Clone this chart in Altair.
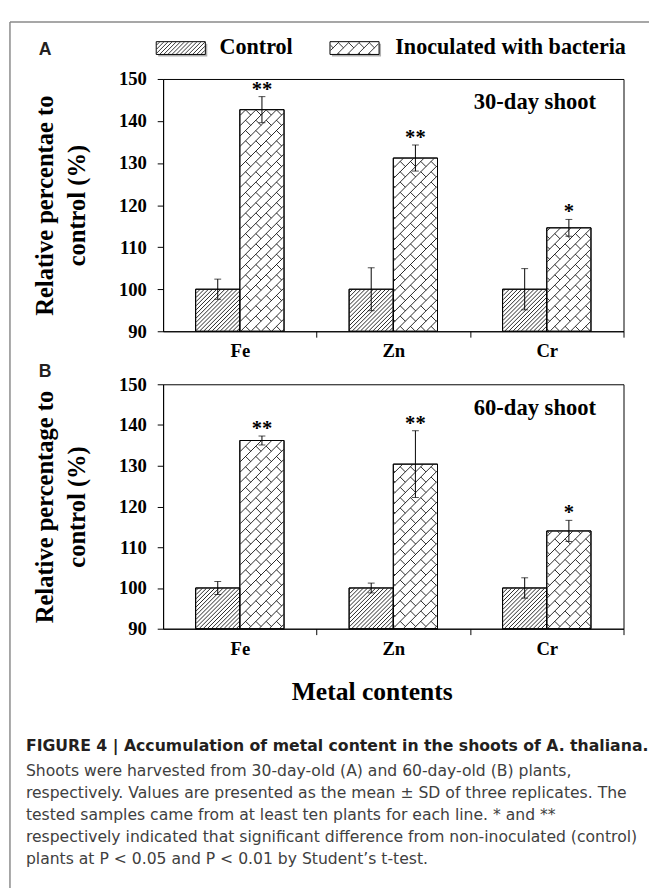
import math
import altair as alt
import pandas as pd

# ---------------- data ----------------
metals = ["Fe", "Zn", "Cr"]
groups = ["Control", "Inoculated with bacteria"]
a_control = [100.0, 100.0, 100.0]
a_control_sd = [2.4, 5.1, 4.9]
a_inoculated = [142.7, 131.2, 114.6]
a_inoculated_sd = [3.1, 3.1, 2.0]
b_control = [100.0, 100.0, 100.0]
b_control_sd = [1.6, 1.2, 2.5]
b_inoculated = [136.2, 130.4, 114.0]
b_inoculated_sd = [1.1, 8.2, 2.6]
significance = ["**", "**", "*"]
y_ticks = [90, 100, 110, 120, 130, 140, 150]
panel_letters = ["A", "B"]
panel_notes = ["30-day shoot", "60-day shoot"]
y_titles = [["Relative percentae to", "control (%)"],
            ["Relative percentage to", "control (%)"]]
x_title = "Metal contents"
caption_title = "FIGURE 4 | Accumulation of metal content in the shoots of A. thaliana."
caption_lines = [
    "Shoots were harvested from 30-day-old (A) and 60-day-old (B) plants,",
    "respectively. Values are presented as the mean \u00b1 SD of three replicates. The",
    "tested samples came from at least ten plants for each line. * and **",
    "respectively indicated that significant difference from non-inoculated (control)",
    "plants at P < 0.05 and P < 0.01 by Student\u2019s t-test.",
]

# ---------------- layout / style ----------------
W = 469
HA, HB = 257, 249
GAP = 54
YMIN, YMAX = 90, 150
NCAT = len(metals)
BAR = 0.288
SERIF = "Liberation Serif"
SANS = "Liberation Sans"
CAPFONT = "DejaVu Sans"
FRAME = "#8a8a8a"
CTRL_STEP = 4.2
BRICK_STEP = 10.5


def clip_seg(x0, y0, x1, y1, rect):
    xmin, ymin, xmax, ymax = rect
    dx, dy = x1 - x0, y1 - y0
    t0, t1 = 0.0, 1.0
    for p, q in ((-dx, x0 - xmin), (dx, xmax - x0), (-dy, y0 - ymin), (dy, ymax - y0)):
        if abs(p) < 1e-12:
            if q < 0:
                return None
        else:
            t = q / p
            if p < 0:
                if t > t1:
                    return None
                t0 = max(t0, t)
            else:
                if t < t0:
                    return None
                t1 = min(t1, t)
    if t1 - t0 < 1e-6:
        return None
    return (x0 + t0 * dx, y0 + t0 * dy, x0 + t1 * dx, y0 + t1 * dy)


def diag_hatch(rect, s):
    xmin, ymin, xmax, ymax = rect
    segs = []
    for j in range(math.floor((xmin + ymin) / s) - 1, math.ceil((xmax + ymax) / s) + 2):
        k = j * s
        seg = clip_seg(k - ymax, ymax, k - ymin, ymin, rect)
        if seg:
            segs.append(seg)
    return segs


def brick_hatch(rect, s):
    xmin, ymin, xmax, ymax = rect
    segs = []
    for j in range(math.floor((xmin + ymin) / s) - 1, math.ceil((xmax + ymax) / s) + 2):
        k = j * s
        seg = clip_seg(k - ymax, ymax, k - ymin, ymin, rect)
        if seg:
            segs.append(seg)
        off = (j % 2) * s
        n0 = math.floor((xmin - ymax - off) / (2 * s)) - 1
        n1 = math.ceil((xmax - ymin - off) / (2 * s)) + 1
        for n in range(n0, n1 + 1):
            m = off + 2 * s * n
            seg = clip_seg((k + m) / 2, (k - m) / 2, (k + s + m) / 2, (k + s - m) / 2, rect)
            if seg:
                segs.append(seg)
    return segs


def pattern(group, rect):
    return diag_hatch(rect, CTRL_STEP) if group == groups[0] else brick_hatch(rect, BRICK_STEP)


x_scale = alt.Scale(domain=[0, NCAT], nice=False, zero=False)
y_scale = alt.Scale(domain=[YMIN, YMAX], nice=False, zero=False)

label_expr = " : ".join(f"datum.value == {i + 0.5} ? '{m}'" for i, m in enumerate(metals)) + " : ''"
x_axis = alt.Axis(
    values=[v / 2 for v in range(1, 2 * NCAT + 1)],
    labelExpr=label_expr, title=None, grid=False, labelAngle=0, labelFlush=False,
    tickSize=6, tickColor="black", domainColor="black",
    tickOpacity={"condition": {"test": "datum.value % 1 != 0", "value": 0}, "value": 1},
    labelFont=SERIF, labelFontSize=19, labelFontWeight="bold", labelColor="black",
    labelPadding=5,
)


def y_axis(title):
    return alt.Axis(
        values=y_ticks, title=title, grid=False,
        titleFont=SERIF, titleFontSize=25, titleFontWeight="bold", titleColor="black",
        titleLineHeight=32, titlePadding=30,
        labelFont=SERIF, labelFontSize=19, labelFontWeight="bold", labelColor="black",
        labelPadding=11, tickSize=6, tickColor="black", domainColor="black",
    )


def make_panel(ctrl, ctrl_sd, inoc, inoc_sd, H, ytitle, note, letter, letter_y):
    rows = []
    for i, m in enumerate(metals):
        c = i + 0.5
        for g, v, sd, x0 in ((groups[0], ctrl[i], ctrl_sd[i], c - BAR),
                             (groups[1], inoc[i], inoc_sd[i], c)):
            rows.append(dict(metal=m, group=g, x0=x0, x1=x0 + BAR, xc=x0 + BAR / 2,
                             value=v, base=YMIN, lo=v - sd, hi=v + sd,
                             sig=significance[i] if g == groups[1] else ""))
    bars = pd.DataFrame(rows)

    fx = W / NCAT
    fy = H / (YMAX - YMIN)
    hrows = []
    for r in rows:
        rect = (r["x0"] * fx + 0.5, (YMAX - r["value"]) * fy + 0.5, r["x1"] * fx - 0.5, H - 0.5)
        for (px0, py0, px1, py1) in pattern(r["group"], rect):
            hrows.append(dict(x=px0 / fx, y=YMAX - py0 / fy, x2=px1 / fx, y2=YMAX - py1 / fy))
    hatch = pd.DataFrame(hrows)

    caps = pd.concat([bars[["xc", "lo"]].rename(columns={"lo": "yv"}),
                      bars[["xc", "hi"]].rename(columns={"hi": "yv"})])

    ya = y_axis(ytitle)
    X = lambda f: alt.X(f, scale=x_scale, axis=x_axis)
    Y = lambda f: alt.Y(f, scale=y_scale, axis=ya)

    base = alt.Chart(bars)
    fill = base.mark_rect(fill="white", stroke="black", strokeWidth=1).encode(
        x=X("x0:Q"), x2="x1:Q", y=Y("value:Q"), y2="base:Q")
    lines = alt.Chart(hatch).mark_rule(color="black", strokeWidth=0.85).encode(
        x=X("x:Q"), x2="x2:Q", y=Y("y:Q"), y2="y2:Q")
    outline = base.mark_rect(fillOpacity=0, stroke="black", strokeWidth=1).encode(
        x=X("x0:Q"), x2="x1:Q", y=Y("value:Q"), y2="base:Q")
    err = base.mark_rule(color="black", strokeWidth=1).encode(
        x=X("xc:Q"), y=Y("lo:Q"), y2="hi:Q")
    cap = alt.Chart(caps).mark_tick(orient="horizontal", size=7, thickness=1, color="black").encode(
        x=X("xc:Q"), y=Y("yv:Q"))
    sig = base.transform_filter("datum.sig != ''").mark_text(
        font=SERIF, fontSize=21, fontWeight="bold", baseline="alphabetic", dy=-1, color="black"
    ).encode(x=X("xc:Q"), y=Y("hi:Q"), text="sig:N")
    note_t = alt.Chart(pd.DataFrame({"t": [note]})).mark_text(
        align="right", baseline="alphabetic", font=SERIF, fontSize=23, fontWeight="bold", color="black"
    ).encode(x=alt.value(441), y=alt.value(31), text="t:N")
    letter_t = alt.Chart(pd.DataFrame({"t": [letter]})).mark_text(
        align="left", baseline="alphabetic", font=SANS, fontSize=18, fontWeight="bold", color="#231f20"
    ).encode(x=alt.value(-126.75), y=alt.value(letter_y), text="t:N")

    return alt.layer(fill, lines, outline, err, cap, sig, note_t, letter_t).properties(
        width=W, height=H, view=alt.ViewBackground(stroke="black", strokeWidth=1))


panel_a = make_panel(a_control, a_control_sd, a_inoculated, a_inoculated_sd, HA,
                     y_titles[0], panel_notes[0], panel_letters[0], -24.75)
panel_b = make_panel(b_control, b_control_sd, b_inoculated, b_inoculated_sd, HB,
                     y_titles[1], panel_notes[1], panel_letters[1], -7.25)

# ---------------- header: frame top line and legend ----------------
one = pd.DataFrame({"k": [0]})
PX = lambda f: alt.X(f, scale=None)
PY = lambda f: alt.Y(f, scale=None)

sw_left = [-7, 170]
sw_w, sw_top, sw_h = 50, 20, 13
lab_x = [57.5, 236.5]
sw = pd.DataFrame({"group": groups, "x": sw_left,
                   "x2": [v + sw_w for v in sw_left], "y": [sw_top] * 2, "y2": [sw_top + sw_h] * 2,
                   "lx": lab_x})
sw_sh = sw.assign(x=sw.x + 2, x2=sw.x2 + 2, y=sw.y + 2, y2=sw.y2 + 2)
lrows = []
for g, xl in zip(groups, sw_left):
    rect = (xl + 0.5, sw_top + 0.5, xl + sw_w - 0.5, sw_top + sw_h - 0.5)
    for s in pattern(g, rect):
        lrows.append(dict(x=s[0], y=s[1], x2=s[2], y2=s[3]))
leg_hatch = pd.DataFrame(lrows)

h_frame = alt.Chart(one).mark_rule(color=FRAME, strokeWidth=1.5).encode(
    x=alt.value(-156), x2=alt.value(495), y=alt.value(0))
h_shadow = alt.Chart(sw_sh).mark_rect(fill="#b0b0b0").encode(
    x=PX("x:Q"), x2="x2:Q", y=PY("y:Q"), y2="y2:Q")
h_sw = alt.Chart(sw).mark_rect(fill="white", stroke="black", strokeWidth=1).encode(
    x=PX("x:Q"), x2="x2:Q", y=PY("y:Q"), y2="y2:Q")
h_hatch = alt.Chart(leg_hatch).mark_rule(color="black", strokeWidth=0.8).encode(
    x=PX("x:Q"), x2="x2:Q", y=PY("y:Q"), y2="y2:Q")
h_lab = alt.Chart(sw).mark_text(align="left", baseline="alphabetic", font=SERIF, fontSize=22.5,
                                fontWeight="bold", color="black").encode(
    x=PX("lx:Q"), y=alt.value(32.5), text="group:N")
header = alt.layer(h_frame, h_shadow, h_sw, h_hatch, h_lab).properties(
    width=W, height=4, view=alt.ViewBackground(stroke="transparent"))

# ---------------- footer: x title, caption, frame left line ----------------
cap_y = [70.25, 95.75, 118.25, 140.75, 163.25, 185.75]
cap_df = pd.DataFrame({"t": [caption_title] + caption_lines, "y": cap_y})
f_frame = alt.Chart(one).mark_rule(color=FRAME, strokeWidth=1.5).encode(
    x=alt.value(-156), y=alt.value(-672), y2=alt.value(210))
f_xt = alt.Chart(pd.DataFrame({"t": [x_title]})).mark_text(
    align="center", baseline="alphabetic", font=SERIF, fontSize=26, fontWeight="bold", color="black"
).encode(x=alt.value(213), y=alt.value(18.25), text="t:N")
f_cap_title = alt.Chart(cap_df.iloc[:1]).mark_text(
    align="left", baseline="alphabetic", font=CAPFONT, fontSize=16, fontWeight="bold", color="#231f20"
).encode(x=alt.value(-139.75), y=PY("y:Q"), text="t:N")
f_cap = alt.Chart(cap_df.iloc[1:]).mark_text(
    align="left", baseline="alphabetic", font=CAPFONT, fontSize=15.9, color="#404040"
).encode(x=alt.value(-139.75), y=PY("y:Q"), text="t:N")
footer = alt.layer(f_frame, f_xt, f_cap_title, f_cap).properties(
    width=W, height=150, view=alt.ViewBackground(stroke="transparent"))

chart = alt.vconcat(header, panel_a, panel_b, footer, spacing=GAP, bounds="flush").properties(
    padding={"left": 0, "top": 4, "right": 0, "bottom": 0})

chart.save("out.html", embed_options={"renderer": "svg", "actions": False})
